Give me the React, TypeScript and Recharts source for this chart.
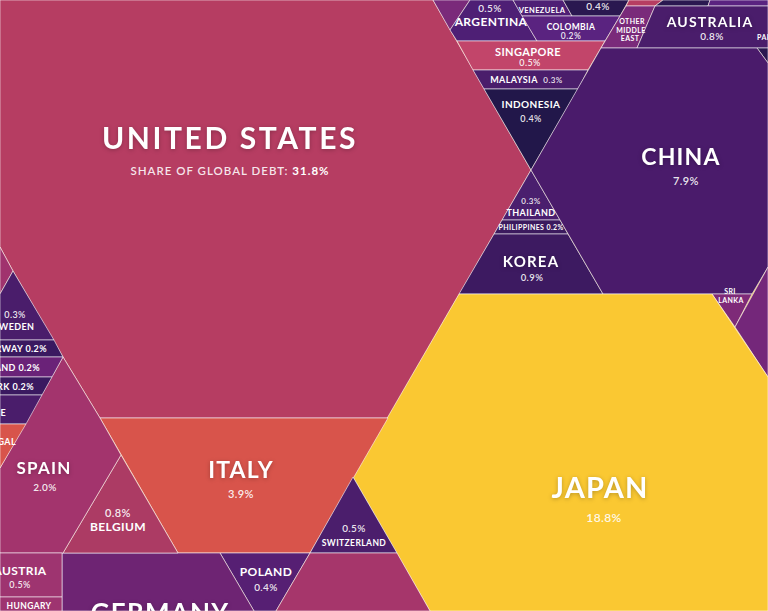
import React from "react";
import { ScatterChart, Scatter, XAxis, YAxis, Polygon } from "recharts";

const W = 768;
const H = 611;

// outline of every cell, in picture units (x right, y down)
const cellIds = [
  "us", "topMagenta", "argentina", "venezuela", "navyTop", "colombia",
  "singapore", "malaysia", "indonesia", "thailand", "philippines", "korea",
  "pinkTop", "navyTop2", "purpleTop", "otherME", "australia", "navyRight",
  "china", "sriLanka", "magentaRight", "japan", "italy", "switzerland",
  "poland", "magentaBottom", "germany", "belgium", "spain", "austria",
  "hungary", "magentaLeft", "sweden", "norway", "finland", "denmark",
  "greece", "portugal",
];

const cellOutlines: number[][][] = [
  [[0, 0], [433, 0], [531, 170], [388, 418], [100, 418], [63, 357], [13, 271], [0, 247]],
  [[433, 0], [470, 0], [450, 30]],
  [[470, 0], [513, 0], [537, 41], [457, 41], [450, 30]],
  [[513, 0], [563, 0], [572, 16], [522, 16]],
  [[563, 0], [629, 0], [620, 16], [572, 16]],
  [[522, 16], [620, 16], [605, 41], [537, 41]],
  [[457, 41], [605, 41], [588, 70], [473, 70]],
  [[473, 70], [588, 70], [578, 89], [484, 89]],
  [[484, 89], [578, 89], [531, 170]],
  [[531, 170], [560, 220], [502, 220]],
  [[502, 220], [560, 220], [568, 234], [494, 234]],
  [[494, 234], [568, 234], [603, 294], [459, 294]],
  [[629, 0], [663, 0], [655, 6], [626, 6]],
  [[663, 0], [710, 0], [708, 6], [655, 6]],
  [[710, 0], [768, 0], [768, 6], [708, 6]],
  [[626, 6], [655, 6], [637, 48], [601, 48]],
  [[655, 6], [768, 6], [768, 48], [637, 48]],
  [[757, 48], [768, 48], [768, 63]],
  [[601, 48], [757, 48], [768, 63], [768, 267], [752, 294], [603, 294], [531, 170]],
  [[712, 294], [752, 294], [735, 327]],
  [[768, 267], [768, 377], [735, 327]],
  [[459, 294], [712, 294], [768, 377], [768, 611], [430, 611], [353, 477]],
  [[100, 418], [388, 418], [310, 553], [178, 553]],
  [[353, 477], [397, 553], [310, 553]],
  [[220, 553], [310, 553], [276, 611], [254, 611]],
  [[310, 553], [397, 553], [430, 611], [276, 611]],
  [[62, 553], [220, 553], [254, 611], [62, 611]],
  [[121, 455], [178, 553], [63, 553]],
  [[63, 357], [100, 418], [121, 455], [63, 553], [0, 553], [0, 468]],
  [[0, 553], [62, 553], [62, 597], [0, 597]],
  [[0, 597], [62, 597], [62, 611], [0, 611]],
  [[0, 247], [13, 271], [0, 294]],
  [[13, 271], [54, 340], [0, 340], [0, 294]],
  [[0, 340], [54, 340], [63, 357], [0, 357]],
  [[0, 357], [63, 357], [52, 377], [0, 377]],
  [[0, 377], [52, 377], [42, 395], [0, 395]],
  [[0, 395], [42, 395], [26, 424], [0, 424]],
  [[0, 424], [26, 424], [0, 468]],
];

const cellColors = [
  "#b63d62", "#7a2a7a", "#4e1f75", "#4e1f75", "#2a1850", "#5a2380",
  "#c2456a", "#4a1d6b", "#22174a", "#4a1f6e", "#3b1a5e", "#3d1a61",
  "#b63d62", "#2a1850", "#5a2380", "#7a2a7a", "#4a1d6b", "#2a1850",
  "#4a1b6b", "#7e2a78", "#74277a", "#fac832", "#d8544b", "#4b1e6c",
  "#561f73", "#a6366b", "#6e2473", "#ac3b64", "#a3346d", "#9e3470",
  "#9e3470", "#a0336e", "#4a1d6b", "#3a1960", "#6a2278", "#3a1960",
  "#4a1d6b", "#d8544b",
];

// label text, its centre x, baseline y, font size, anchor
const labelTexts = [
  "UNITED STATES", "CHINA", "7.9%", "JAPAN", "18.8%", "ITALY", "3.9%",
  "SPAIN", "2.0%", "0.8%", "BELGIUM", "0.5%", "SWITZERLAND", "POLAND", "0.4%",
  "KOREA", "0.9%", "0.3%", "THAILAND", "PHILIPPINES  0.2%", "INDONESIA", "0.4%",
  "MALAYSIA", "0.3%", "SINGAPORE", "0.5%", "0.5%", "ARGENTINA", "VENEZUELA",
  "0.4%", "COLOMBIA", "0.2%", "OTHER", "MIDDLE", "EAST", "AUSTRALIA", "0.8%",
  "PAKISTAN", "SRI", "LANKA", "0.3%", "SWEDEN", "NORWAY 0.2%", "FINLAND  0.2%",
  "DENMARK  0.2%", "GREECE", "PORTUGAL", "AUSTRIA", "0.5%", "HUNGARY", "GERMANY",
];
const labelX = [
  230, 681, 686, 600, 604, 241, 241,
  44, 45, 118, 118, 354, 354, 266, 266,
  531, 532, 531, 531, 531, 531, 531,
  514, 553, 528, 530, 490, 491, 542,
  598, 571, 571, 632, 631, 630, 710, 712,
  757, 730, 731, 15, 14, 47, 40,
  34, 6, 16, 20, 20, 29, 160,
];
const labelY = [
  149, 165, 185, 498, 522, 478, 498,
  474, 491, 517, 531, 532, 546, 576, 591,
  267, 281, 204, 216, 230, 108, 122,
  83, 83, 56, 66, 12, 26, 13,
  10, 30, 39, 24, 33, 41, 27, 40,
  40, 294, 303, 318, 330, 352, 371,
  390, 416, 445, 575, 588, 609, 622,
];
const labelSize = [
  30, 23, 11, 29, 12, 23, 11,
  17, 10, 11, 12, 10, 8.5, 12, 10,
  15, 9.5, 8, 9, 7, 10, 9,
  9, 8, 11, 9, 10, 12, 7.5,
  10, 8.5, 8.5, 7, 7, 7, 14, 10,
  7, 7, 7, 9, 9, 9, 9,
  9, 9, 9, 12, 9, 8.5, 26,
];
const labelAnchor = [
  "middle", "middle", "middle", "middle", "middle", "middle", "middle",
  "middle", "middle", "middle", "middle", "middle", "middle", "middle", "middle",
  "middle", "middle", "middle", "middle", "middle", "middle", "middle",
  "middle", "middle", "middle", "middle", "middle", "middle", "middle",
  "middle", "middle", "middle", "middle", "middle", "middle", "middle", "middle",
  "start", "middle", "middle", "middle", "middle", "end", "end",
  "end", "end", "end", "middle", "middle", "middle", "middle",
];

const cells = cellIds.map((id, i) => ({
  id,
  color: cellColors[i],
  points: cellOutlines[i].map(([x, y]) => ({ x, y })),
}));

const labels = labelTexts.map((text, i) => ({
  text,
  x: labelX[i],
  y: labelY[i],
  size: labelSize[i],
  anchor: labelAnchor[i],
}));

const subtitle = [{ x: 230, y: 175 }];

const FONT = "Lato, 'Open Sans', sans-serif";

const CellShape = (color: string) => (props: any) => (
  <Polygon
    points={props.points}
    fill={color}
    stroke="rgba(255,255,255,0.55)"
    strokeWidth={1}
  />
);

const LabelShape = (props: any) => {
  const p = props.payload;
  const big = p.size >= 14;
  const isPct = /%$/.test(p.text) && !/[A-Z]/.test(p.text);
  const spacing = p.size >= 30 ? 2.6 : big ? 1.2 : 0.4;
  return (
    <text
      x={props.cx}
      y={props.cy}
      textAnchor={p.anchor}
      fontFamily={FONT}
      fontSize={p.size}
      fontWeight={isPct ? 600 : 700}
      letterSpacing={spacing}
      fill="#fff"
      fillOpacity={isPct ? 0.9 : 1}
      style={big ? { filter: "drop-shadow(0 1px 2px rgba(0,0,0,0.25))" } : undefined}
    >
      {p.text}
    </text>
  );
};

const SubtitleShape = (props: any) => (
  <text
    x={props.cx}
    y={props.cy}
    textAnchor="middle"
    fontFamily={FONT}
    fontSize={11.5}
    letterSpacing={1}
    fill="#fff"
  >
    <tspan fontWeight={600} fillOpacity={0.88}>SHARE OF GLOBAL DEBT: </tspan>
    <tspan fontWeight={700}>31.8%</tspan>
  </text>
);

const Empty = () => <g />;

export default function App() {
  return (
    <div style={{ position: "fixed", left: 0, top: 0, width: W, height: H, background: "#fac832" }}>
      <ScatterChart width={W} height={H} margin={{ top: 0, right: 0, bottom: 0, left: 0 }}>
        <XAxis type="number" dataKey="x" domain={[0, W]} allowDataOverflow hide />
        <YAxis type="number" dataKey="y" domain={[0, H]} allowDataOverflow reversed hide />
        {cells.map((c) => (
          <Scatter
            key={c.id}
            name={c.id}
            data={c.points}
            line={CellShape(c.color)}
            lineType="joint"
            shape={Empty}
            isAnimationActive={false}
          />
        ))}
        <Scatter data={labels} shape={LabelShape} isAnimationActive={false} />
        <Scatter data={subtitle} shape={SubtitleShape} isAnimationActive={false} />
      </ScatterChart>
    </div>
  );
}
